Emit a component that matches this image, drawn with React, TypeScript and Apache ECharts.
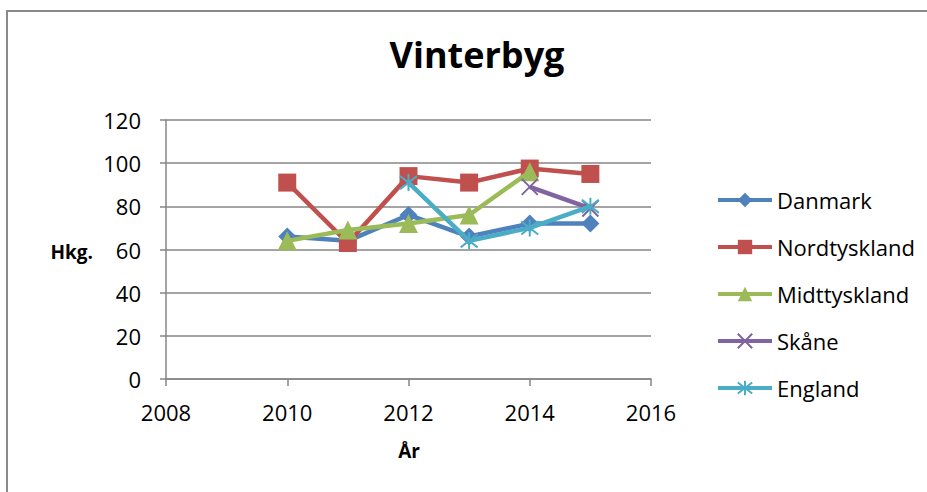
import React, { useEffect, useRef } from "react";
import * as echarts from "echarts";

const years = [2010, 2011, 2012, 2013, 2014, 2015];
const seriesNames = ["Danmark", "Nordtyskland", "Midttyskland", "Skåne", "England"];
const danmark = [66, 64, 76, 66, 72, 72];
const nordtyskland = [91, 63, 94, 91, 97.5, 95];
const midttyskland = [64, 69, 72, 76, 96, null];
const skaane = [null, null, null, null, 89, 79];
const england = [null, null, 91, 64, 70, 80];
const yTicks = { min: 0, max: 120, interval: 20 };
const xTicks = { min: 2008, max: 2016, interval: 2 };

const colors = ["#4F81BD", "#C0504D", "#9BBB59", "#8064A2", "#4BACC6"];
const FONT = "'Open Sans', sans-serif";

const toPairs = (vals: (number | null)[]) =>
  years.map((y, i) => [y, vals[i]]).filter((p) => p[1] !== null);

export default function App() {
  const ref = useRef<HTMLDivElement>(null);
  useEffect(() => {
    if (!ref.current) return;
    const chart = echarts.init(ref.current, null, { renderer: "svg" });
    const allVals = [danmark, nordtyskland, midttyskland, skaane, england];
    const symbols = [
      "diamond",
      "rect",
      "triangle",
      "path://M0,0L10,10M10,0L0,10",
      "path://M0,0L10,10M10,0L0,10M5,-1.5L5,11.5",
    ];
    const sizes = [18, 18, 19, 16, 17];
    const series = allVals.map((vals, i) => ({
      name: seriesNames[i],
      type: "line",
      data: toPairs(vals),
      symbol: symbols[i],
      symbolSize: sizes[i],
      showAllSymbol: true,
      lineStyle: { color: colors[i], width: 4.5 },
      itemStyle:
        i >= 3
          ? { color: colors[i], borderColor: colors[i], borderWidth: 2 }
          : { color: colors[i], borderWidth: 0 },
      z: 2 + i,
    }));
    chart.setOption({
      animation: false,
      backgroundColor: "#fff",
      title: {
        text: "Vinterbyg",
        left: 472,
        top: 31,
        textAlign: "center",
        textStyle: { fontFamily: FONT, fontSize: 36, fontWeight: "bold", color: "#000" },
      },
      legend: {
        orient: "vertical",
        left: 711,
        top: 184,
        itemWidth: 54,
        itemHeight: 18,
        itemGap: 25,
        data: seriesNames,
        lineStyle: { width: 4 },
        textStyle: { fontFamily: FONT, fontSize: 22, color: "#000", lineHeight: 22 },
      },
      grid: { left: 166, top: 120, width: 485, height: 259, containLabel: false },
      xAxis: {
        type: "value",
        min: xTicks.min,
        max: xTicks.max,
        interval: xTicks.interval,
        axisLine: { show: true, lineStyle: { color: "#868686", width: 1.5 } },
        axisTick: { show: true, length: 7, lineStyle: { color: "#868686", width: 1.5 } },
        splitLine: { show: false },
        axisLabel: {
          fontFamily: FONT,
          fontSize: 22,
          color: "#000",
          margin: 22,
          formatter: (v: number) => String(v),
        },
      },
      yAxis: {
        type: "value",
        min: yTicks.min,
        max: yTicks.max,
        interval: yTicks.interval,
        axisLine: { show: true, lineStyle: { color: "#868686", width: 1.5 } },
        axisTick: { show: true, length: 6, lineStyle: { color: "#868686", width: 1.5 } },
        splitLine: { show: true, lineStyle: { color: "#868686", width: 1.5 } },
        axisLabel: { fontFamily: FONT, fontSize: 22, color: "#000", margin: 25 },
      },
      graphic: [
        {
          type: "rect",
          shape: { x: 7, y: 11, width: 1000, height: 600 },
          style: { fill: "none", stroke: "#8a8a8a", lineWidth: 2 },
          silent: true,
        },
        {
          type: "text",
          x: 93,
          y: 252,
          style: {
            text: "Hkg.",
            fontFamily: FONT,
            fontSize: 19,
            fontWeight: "bold",
            fill: "#000",
            align: "right",
            verticalAlign: "middle",
          },
        },
        {
          type: "text",
          x: 409,
          y: 451,
          style: {
            text: "År",
            fontFamily: FONT,
            fontSize: 19,
            fontWeight: "bold",
            fill: "#000",
            align: "center",
            verticalAlign: "middle",
          },
        },
      ],
      series,
    });
    return () => chart.dispose();
  }, []);
  return (
    <div
      ref={ref}
      style={{ position: "fixed", left: 0, top: 0, width: 927, height: 492 }}
    />
  );
}
